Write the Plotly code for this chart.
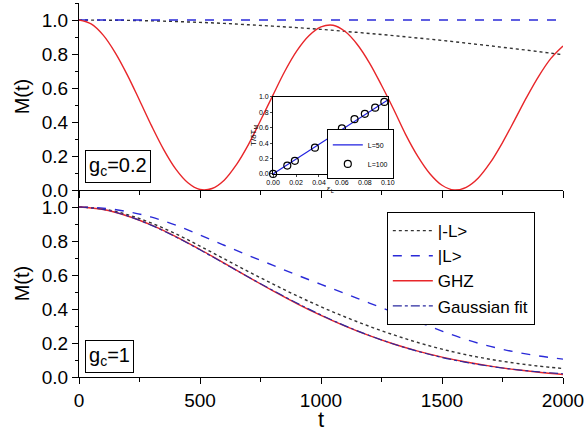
import plotly.graph_objects as go

# ---------------- data ----------------
t_fine = [0, 50, 100, 150, 200, 250, 300, 350, 400, 450, 500, 550, 600, 650, 700, 750,
          800, 850, 900, 950, 1000, 1050, 1100, 1150, 1200, 1250, 1300, 1350, 1400, 1450,
          1500, 1550, 1600, 1650, 1700, 1750, 1800, 1850, 1900, 1950, 2000]
ghz_top = [1.0, 0.977, 0.911, 0.807, 0.676, 0.528, 0.377, 0.238, 0.123, 0.043, 0.003,
           0.009, 0.058, 0.148, 0.267, 0.409, 0.554, 0.697, 0.818, 0.907, 0.959, 0.969,
           0.932, 0.856, 0.748, 0.616, 0.475, 0.326, 0.198, 0.096, 0.028, 0.0, 0.016,
           0.071, 0.162, 0.279, 0.411, 0.546, 0.670, 0.774, 0.847]

t_coarse = [0, 100, 200, 300, 400, 500, 600, 700, 800, 900, 1000, 1100, 1200, 1300,
            1400, 1500, 1600, 1700, 1800, 1900, 2000]
mL_top = [1.0, 0.999, 0.998, 0.995, 0.991, 0.986, 0.980, 0.972, 0.964, 0.955, 0.945,
          0.933, 0.921, 0.908, 0.894, 0.880, 0.864, 0.848, 0.831, 0.814, 0.796]
pL_top = [1.0, 1.0, 1.0, 1.0, 1.0, 1.0, 1.0, 1.0, 1.0, 1.0, 1.0,
          1.0, 1.0, 1.0, 1.0, 1.0, 1.0, 1.0, 1.0, 1.0, 1.0]

mL_bot = [1.0, 0.988, 0.955, 0.905, 0.842, 0.770, 0.695, 0.620, 0.548, 0.478, 0.413,
          0.353, 0.298, 0.248, 0.203, 0.164, 0.131, 0.104, 0.082, 0.064, 0.050]
pL_bot = [1.0, 0.993, 0.973, 0.940, 0.893, 0.835, 0.775, 0.715, 0.658, 0.600, 0.545,
          0.490, 0.435, 0.380, 0.325, 0.270, 0.220, 0.180, 0.148, 0.124, 0.105]
ghz_bot = [1.0, 0.985, 0.947, 0.893, 0.826, 0.750, 0.670, 0.588, 0.508, 0.432, 0.362,
           0.299, 0.243, 0.194, 0.152, 0.117, 0.088, 0.064, 0.044, 0.028, 0.015]
gfit_bot = [1.0, 0.986, 0.948, 0.892, 0.824, 0.748, 0.668, 0.588, 0.510, 0.435, 0.365,
            0.301, 0.244, 0.194, 0.151, 0.115, 0.086, 0.063, 0.044, 0.030, 0.019]

# inset
eps_line = [0.0, 0.1]
inv_line = [0.0, 0.96]
eps_pts = [0.0, 0.0124, 0.019, 0.0365, 0.060, 0.071, 0.080, 0.089, 0.097]
inv_pts = [0.0, 0.108, 0.17, 0.34, 0.59, 0.71, 0.78, 0.86, 0.935]

x_ticks = [0, 500, 1000, 1500, 2000]
x_ticklabels = ["0", "500", "1000", "1500", "2000"]

# ---------------- style ----------------
FONT = "Liberation Sans, Arial, sans-serif"
RED = "#e8262a"
BLUE = "#2a2ad8"
DBLUE = "#2a2aa0"
DOT = "#333333"

fig = go.Figure()

# top panel (x2, y2)
fig.add_trace(go.Scatter(x=t_coarse, y=mL_top, mode="lines", xaxis="x2", yaxis="y2",
                         line=dict(color=DOT, width=1.4, dash="dot", shape="spline"), showlegend=False))
fig.add_trace(go.Scatter(x=t_coarse, y=pL_top, mode="lines", xaxis="x2", yaxis="y2",
                         line=dict(color=BLUE, width=1.4, dash="dash"), showlegend=False))
fig.add_trace(go.Scatter(x=t_fine, y=ghz_top, mode="lines", xaxis="x2", yaxis="y2",
                         line=dict(color=RED, width=1.4, shape="spline"), showlegend=False))

# bottom panel (x, y)
fig.add_trace(go.Scatter(x=t_coarse, y=mL_bot, mode="lines", name="|-L&gt;",
                         line=dict(color=DOT, width=1.4, dash="dot", shape="spline")))
fig.add_trace(go.Scatter(x=t_coarse, y=pL_bot, mode="lines", name="|L&gt;",
                         line=dict(color=BLUE, width=1.4, dash="dash", shape="spline")))
fig.add_trace(go.Scatter(x=t_coarse, y=ghz_bot, mode="lines", name="GHZ",
                         line=dict(color=RED, width=1.4, shape="spline")))
fig.add_trace(go.Scatter(x=t_coarse, y=gfit_bot, mode="lines", name="Gaussian fit",
                         line=dict(color=DBLUE, width=1.2, dash="dashdot", shape="spline")))

# inset
fig.add_trace(go.Scatter(x=eps_line, y=inv_line, mode="lines", name="L=50", xaxis="x5", yaxis="y5",
                         line=dict(color="#2020e0", width=1.2), legend="legend2"))
fig.add_trace(go.Scatter(x=eps_pts, y=inv_pts, mode="markers", name="L=100", xaxis="x5", yaxis="y5",
                         marker=dict(symbol="circle-open", size=7, color="black", line=dict(width=1.2)),
                         cliponaxis=False, legend="legend2"))

common_x = dict(range=[0, 2000], tickvals=x_ticks, ticktext=x_ticklabels, showline=True,
                linecolor="black", linewidth=1.2, showgrid=False, zeroline=False,
                tickcolor="black", tickwidth=1.2, automargin=False)
common_y = dict(range=[0, 1.1], dtick=0.2, tick0=0, tickformat=".1f", showline=True,
                linecolor="black", linewidth=1.2, showgrid=False, zeroline=False,
                tickcolor="black", tickwidth=1.2, automargin=False)

fig.update_layout(
    width=585, height=432,
    margin=dict(l=79, r=22, t=3, b=55),
    paper_bgcolor="white", plot_bgcolor="white",
    font=dict(family=FONT, color="black"),
    xaxis=dict(**common_x, domain=[0, 1], anchor="y", ticks="outside", ticklen=6,
               minor=dict(ticks="outside", ticklen=4, dtick=250, tickcolor="black"),
               tickfont=dict(size=19),
               title=dict(text="t", font=dict(size=22), standoff=0)),
    yaxis=dict(**common_y, domain=[0, 0.5], anchor="x", ticks="outside", ticklen=6,
               minor=dict(ticks="outside", ticklen=3, dtick=0.1, tickcolor="black"),
               tickfont=dict(size=19),
               title=dict(text="M(t)", font=dict(size=20), standoff=6)),
    xaxis2=dict(**common_x, domain=[0, 1], anchor="y2", matches="x", ticks="outside", ticklen=7,
                minor=dict(ticks="outside", ticklen=4, dtick=250, tickcolor="black"),
                showticklabels=False),
    yaxis2=dict(**common_y, domain=[0.5, 1], anchor="x2", ticks="outside", ticklen=6,
                minor=dict(ticks="outside", ticklen=3, dtick=0.1, tickcolor="black"),
                tickfont=dict(size=19),
                title=dict(text="M(t)", font=dict(size=20), standoff=6)),
    # frame axes with inward ticks
    xaxis3=dict(**common_x, overlaying="x", anchor="y2", side="top", ticks="inside", ticklen=7,
                minor=dict(ticks="inside", ticklen=4, dtick=250, tickcolor="black"),
                showticklabels=False),
    yaxis3=dict(**common_y, overlaying="y2", anchor="x", side="right", ticks="inside", ticklen=6,
                minor=dict(ticks="inside", ticklen=3, dtick=0.1, tickcolor="black"),
                showticklabels=False),
    yaxis4=dict(**common_y, overlaying="y", anchor="x", side="right", ticks="inside", ticklen=6,
                minor=dict(ticks="inside", ticklen=3, dtick=0.1, tickcolor="black"),
                showticklabels=False),
    # inset
    xaxis5=dict(domain=[0.401, 0.638], anchor="y5", range=[0, 0.1], dtick=0.02, tickformat=".2f",
                showline=True, mirror=True, linecolor="black", linewidth=1, ticks="outside", ticklen=2,
                showgrid=False, zeroline=False, tickfont=dict(size=7), automargin=False,
                title=dict(text="ε<sub>L</sub>", font=dict(size=8), standoff=0)),
    yaxis5=dict(domain=[0.543, 0.749], anchor="x5", range=[0, 1.0], dtick=0.2, tickformat=".1f",
                showline=True, mirror=True, linecolor="black", linewidth=1, ticks="outside", ticklen=2,
                showgrid=False, zeroline=False, tickfont=dict(size=7), automargin=False,
                title=dict(text="T/δT<sub>M</sub>", font=dict(size=8), standoff=0)),
    legend=dict(x=0.636, y=0.441, xanchor="left", yanchor="top", xref="paper", yref="paper",
                bordercolor="black", borderwidth=1, bgcolor="white",
                font=dict(size=17), tracegroupgap=0, itemwidth=40),
    legend2=dict(x=0.512, y=0.662, xanchor="left", yanchor="top",
                 bordercolor="black", borderwidth=1, bgcolor="white",
                 font=dict(size=7), tracegroupgap=0, itemwidth=30),
    annotations=[
        dict(text="g<sub>c</sub>=0.2", x=0.012, y=0.519, xref="paper", yref="paper",
             xanchor="left", yanchor="bottom", showarrow=False, font=dict(size=20),
             bordercolor="black", borderwidth=1, borderpad=3, bgcolor="white"),
        dict(text="g<sub>c</sub>=1", x=0.012, y=0.011, xref="paper", yref="paper",
             xanchor="left", yanchor="bottom", showarrow=False, font=dict(size=20),
             bordercolor="black", borderwidth=1, borderpad=3, bgcolor="white"),
    ],
)

fig.write_html("out.html", config={"displayModeBar": False},
               post_script="document.body.style.margin='0px';")
